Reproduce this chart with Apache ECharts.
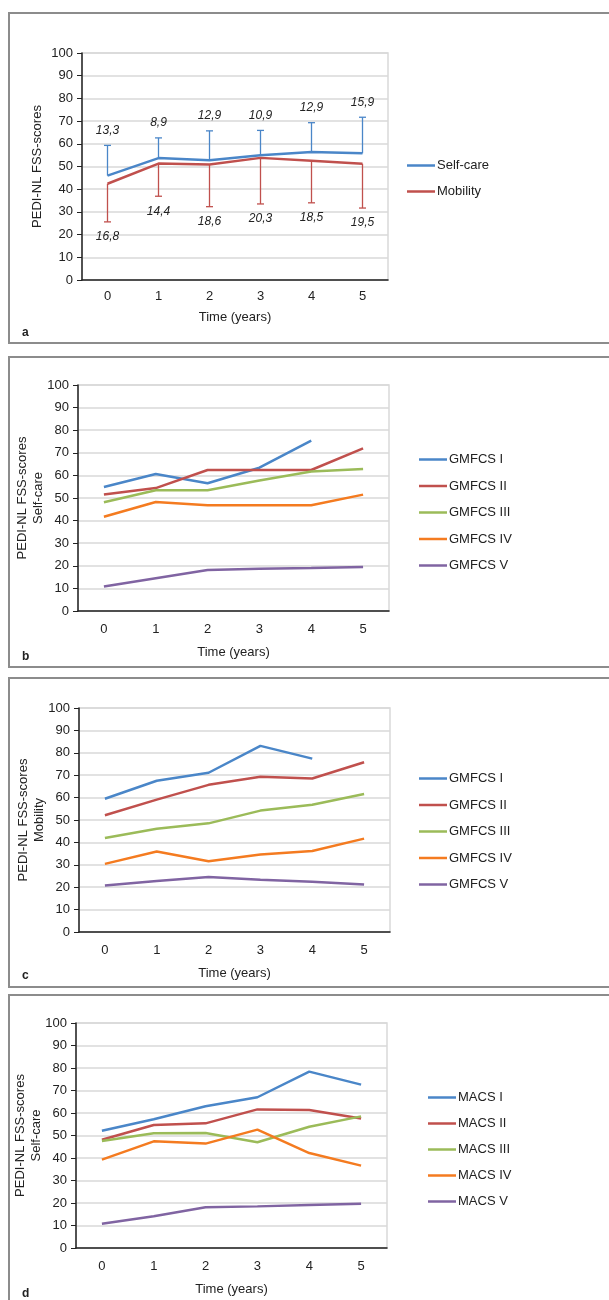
<!DOCTYPE html>
<html>
<head>
<meta charset="utf-8">
<script src="https://cdn.jsdelivr.net/npm/echarts@6/dist/echarts.min.js"></script>
<style>
  html, body { margin: 0; padding: 0; background: #fff; width: 609px; height: 1300px; overflow: hidden; }
  .panel { position: absolute; left: 8px; width: 620px; border: 2px solid #8c8c8c; box-sizing: border-box; }
  .chart { width: 100%; height: 100%; }
</style>
</head>
<body>
<div class="panel" style="top:12px;height:332px"><div id="chartA" class="chart"></div></div>
<div class="panel" style="top:356px;height:312px"><div id="chartB" class="chart"></div></div>
<div class="panel" style="top:677px;height:311px"><div id="chartC" class="chart"></div></div>
<div class="panel" style="top:994px;height:320px"><div id="chartD" class="chart"></div></div>
<script>
"use strict";

var years = ["0", "1", "2", "3", "4", "5"];

// panel a: means with SD
var selfCareMean = [46.0, 53.7, 52.8, 55.0, 56.4, 55.8];
var selfCareSD = [13.3, 8.9, 12.9, 10.9, 12.9, 15.9];
var mobilityMean = [42.4, 51.3, 50.9, 53.8, 52.5, 51.2];
var mobilitySD = [16.8, 14.4, 18.6, 20.3, 18.5, 19.5];

// panel b: self-care by GMFCS
var gmfcsNames = ["GMFCS I", "GMFCS II", "GMFCS III", "GMFCS IV", "GMFCS V"];
var selfGmfcs1 = [54.9, 60.6, 56.5, 63.4, 75.4, null];
var selfGmfcs2 = [51.5, 54.4, 62.4, 62.4, 62.4, 72.0];
var selfGmfcs3 = [48.1, 53.4, 53.4, 57.7, 61.7, 62.8];
var selfGmfcs4 = [41.7, 48.2, 46.8, 46.8, 46.8, 51.5];
var selfGmfcs5 = [10.8, 14.5, 18.1, 18.7, 19.0, 19.5];

// panel c: mobility by GMFCS
var mobGmfcs1 = [59.5, 67.5, 71.1, 83.1, 77.4, null];
var mobGmfcs2 = [52.1, 59.1, 65.7, 69.3, 68.5, 75.8];
var mobGmfcs3 = [42.0, 46.1, 48.5, 54.2, 56.8, 61.6];
var mobGmfcs4 = [30.4, 35.9, 31.6, 34.6, 36.2, 41.7];
var mobGmfcs5 = [20.8, 22.8, 24.5, 23.3, 22.4, 21.2];

// panel d: self-care by MACS
var macsNames = ["MACS I", "MACS II", "MACS III", "MACS IV", "MACS V"];
var selfMacs1 = [52.1, 57.2, 63.0, 67.0, 78.4, 72.6];
var selfMacs2 = [48.1, 54.7, 55.4, 61.6, 61.3, 57.6];
var selfMacs3 = [47.6, 51.0, 51.1, 47.0, 53.9, 58.5];
var selfMacs4 = [39.3, 47.4, 46.4, 52.6, 42.2, 36.6];
var selfMacs5 = [10.8, 14.1, 18.1, 18.5, 19.1, 19.7];

var colors = ["#4a86c8", "#c0504d", "#9bbb59", "#f47b20", "#8064a2"];
var font = "Liberation Sans";
var gridColor = "#d9d9d9";

function xAxisOpt(gap, margin) {
    return {
        type: "category",
        data: years,
        boundaryGap: true,
        name: "Time (years)",
        nameLocation: "middle",
        nameGap: gap,
        nameMoveOverlap: false,
        nameTextStyle: { fontFamily: font, fontSize: 13, color: "#222" },
        axisLine: { lineStyle: { color: "#222", width: 1.5 } },
        axisTick: { alignWithLabel: true, length: 5, lineStyle: { color: "#222" } },
        axisLabel: { fontFamily: font, fontSize: 13, color: "#222", margin: margin },
        splitLine: { show: false }
    };
}

function yAxisOpt(name, gap) {
    return {
        type: "value",
        min: 0,
        max: 100,
        interval: 10,
        name: name,
        nameLocation: "middle",
        nameGap: gap,
        nameRotate: 90,
        nameMoveOverlap: false,
        nameTextStyle: { fontFamily: font, fontSize: 13, color: "#222", lineHeight: 16 },
        axisLine: { show: true, lineStyle: { color: "#222", width: 1.5 } },
        axisTick: { show: true, length: 5, lineStyle: { color: "#222" } },
        axisLabel: { fontFamily: font, fontSize: 13, color: "#222", margin: 9 },
        splitLine: { lineStyle: { color: gridColor, width: 1.5 } }
    };
}

function gridOpt(left, top, width, height) {
    return {
        left: left, top: top, width: width, height: height,
        outerBoundsMode: "none", containLabel: false,
        show: true, borderColor: gridColor, borderWidth: 1.5
    };
}

function panelLabel(txt, top) {
    return [{
        type: "text", left: 12, top: top,
        style: { text: txt, font: "bold 12px " + font, fill: "#222" }
    }];
}

function lineSeries(name, data, color) {
    return {
        name: name, type: "line", data: data, symbol: "none",
        lineStyle: { width: 2.5, color: color }, itemStyle: { color: color },
        connectNulls: false, z: 3
    };
}

function errorSeries(mean, sd, color, dir) {
    var data = mean.map(function (m, i) { return [i, m, sd[i]]; });
    return {
        type: "custom",
        data: data,
        z: 2,
        silent: true,
        renderItem: function (params, api) {
            var i = api.value(0), m = api.value(1), s = api.value(2);
            var p0 = api.coord([i, m]);
            var p1 = api.coord([i, m + dir * s]);
            var txtY = p1[1] - dir * 15;
            return {
                type: "group",
                children: [
                    { type: "line", shape: { x1: p0[0], y1: p0[1], x2: p1[0], y2: p1[1] }, style: { stroke: color, lineWidth: 1.3 } },
                    { type: "line", shape: { x1: p1[0] - 3.5, y1: p1[1], x2: p1[0] + 3.5, y2: p1[1] }, style: { stroke: color, lineWidth: 1.3 } },
                    { type: "text", x: p1[0], y: txtY, style: { text: String(s).replace(".", ","), font: "italic 12px " + font, fill: "#222", align: "center", verticalAlign: "middle" } }
                ]
            };
        }
    };
}

function legendOpt(left, top, names, gap) {
    return {
        orient: "vertical", left: left, top: top, data: names, padding: 0,
        icon: "rect", itemWidth: 28, itemHeight: 2.5, itemGap: gap,
        textStyle: { fontFamily: font, fontSize: 13, color: "#222", padding: [0, 0, 0, -3] }
    };
}

function groupChart(id, grid, legend, yName, names, seriesData, label) {
    var chart = echarts.init(document.getElementById(id));
    chart.setOption({
        animation: false,
        grid: gridOpt(grid.left, grid.top, grid.width, grid.height),
        xAxis: xAxisOpt(grid.xNameGap, 12),
        yAxis: yAxisOpt(yName, grid.yNameGap),
        legend: legendOpt(legend[0], legend[1], names, legend[2]),
        graphic: panelLabel(label[0], label[1]),
        series: seriesData.map(function (d, k) { return lineSeries(names[k], d, colors[k]); })
    });
}

// panel a
var chartA = echarts.init(document.getElementById("chartA"));
chartA.setOption({
    animation: false,
    grid: gridOpt(72, 39, 306, 227),
    xAxis: xAxisOpt(31, 10),
    yAxis: yAxisOpt("PEDI-NL FSS-scores", 37),
    legend: legendOpt(397, 145, ["Self-care", "Mobility"], 13),
    graphic: panelLabel("a", 313),
    series: [
        errorSeries(selfCareMean, selfCareSD, colors[0], 1),
        errorSeries(mobilityMean, mobilitySD, colors[1], -1),
        lineSeries("Self-care", selfCareMean, colors[0]),
        lineSeries("Mobility", mobilityMean, colors[1])
    ]
});

groupChart("chartB", { left: 68, top: 27, width: 311, height: 226, xNameGap: 35, yNameGap: 32 },
    [409, 95, 13.5], "PEDI-NL FSS-scores\nSelf-care", gmfcsNames,
    [selfGmfcs1, selfGmfcs2, selfGmfcs3, selfGmfcs4, selfGmfcs5], ["b", 293]);

groupChart("chartC", { left: 69, top: 29, width: 311, height: 224, xNameGap: 35, yNameGap: 32 },
    [409, 93, 13.5], "PEDI-NL FSS-scores\nMobility", gmfcsNames,
    [mobGmfcs1, mobGmfcs2, mobGmfcs3, mobGmfcs4, mobGmfcs5], ["c", 291]);

groupChart("chartD", { left: 66, top: 27, width: 311, height: 225, xNameGap: 35, yNameGap: 32 },
    [418, 95, 13], "PEDI-NL FSS-scores\nSelf-care", macsNames,
    [selfMacs1, selfMacs2, selfMacs3, selfMacs4, selfMacs5], ["d", 292]);
</script>
</body>
</html>
